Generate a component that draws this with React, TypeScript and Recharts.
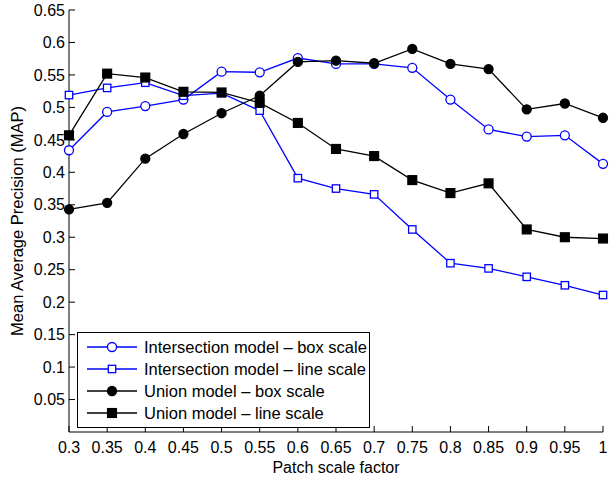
import React from "react";
import { LineChart, Line, XAxis, YAxis, Legend } from "recharts";

// patch scale factor (x)
const patchScale = [0.3, 0.35, 0.4, 0.45, 0.5, 0.55, 0.6, 0.65, 0.7, 0.75, 0.8, 0.85, 0.9, 0.95, 1];

// MAP per model / scale mode
const intersectionBox = [0.434, 0.493, 0.502, 0.512, 0.555, 0.554, 0.576, 0.567, 0.567, 0.561, 0.512, 0.466, 0.455, 0.457, 0.413];
const intersectionLine = [0.519, 0.53, 0.538, 0.518, 0.522, 0.495, 0.391, 0.375, 0.366, 0.312, 0.26, 0.252, 0.239, 0.226, 0.211];
const unionBox = [0.343, 0.353, 0.421, 0.459, 0.491, 0.518, 0.57, 0.572, 0.568, 0.59, 0.567, 0.559, 0.497, 0.506, 0.484];
const unionLine = [0.457, 0.552, 0.546, 0.524, 0.523, 0.507, 0.476, 0.436, 0.425, 0.388, 0.368, 0.383, 0.312, 0.3, 0.298];

const xTicks = patchScale;
const yTicks = [0.05, 0.1, 0.15, 0.2, 0.25, 0.3, 0.35, 0.4, 0.45, 0.5, 0.55, 0.6, 0.65];

const data = patchScale.map((x, i) => ({
  x,
  ib: intersectionBox[i],
  il: intersectionLine[i],
  ub: unionBox[i],
  ul: unionLine[i],
}));

const BLUE = "#0000ff";
const FONT = "'Liberation Sans', Arial, Helvetica, sans-serif";

const series = [
  { key: "ib", name: "Intersection model \u2013 box scale", color: BLUE, shape: "circle", filled: false },
  { key: "il", name: "Intersection model \u2013 line scale", color: BLUE, shape: "square", filled: false },
  { key: "ub", name: "Union model \u2013 box scale", color: "#000", shape: "circle", filled: true },
  { key: "ul", name: "Union model \u2013 line scale", color: "#000", shape: "square", filled: true },
];

const fmt = (v: number) => String(Number(v.toFixed(2)));

function Marker({ cx, cy, shape, color, filled }: any) {
  if (cx == null || cy == null) return null;
  const fill = filled ? color : "#fff";
  if (shape === "circle") {
    return <circle cx={cx} cy={cy} r={4.5} fill={fill} stroke={color} strokeWidth={1.3} />;
  }
  const h = filled ? 4.4 : 3.7;
  return <rect x={cx - h} y={cy - h} width={h * 2} height={h * 2} fill={fill} stroke={color} strokeWidth={1.3} />;
}

const XTick = ({ x, y, payload }: any) => (
  <g>
    <line x1={x} y1={y} x2={x} y2={y - 6} stroke="#000" />
    <text x={x} y={y + 21} textAnchor="middle" fontSize={16} fontFamily={FONT} fill="#000">
      {fmt(payload.value)}
    </text>
  </g>
);

const YTick = ({ x, y, payload }: any) => (
  <g>
    <line x1={x} y1={y} x2={x + 6} y2={y} stroke="#000" />
    <text x={x - 4} y={y + 5.7} textAnchor="end" fontSize={16} fontFamily={FONT} fill="#000">
      {fmt(payload.value)}
    </text>
  </g>
);

const LegendBox = () => (
  <div
    style={{
      border: "1px solid #000",
      background: "#fff",
      padding: "3px 0 3px 0",
      fontFamily: FONT,
      fontSize: 16.5,
      width: 293,
      boxSizing: "border-box",
    }}
  >
    {series.map((s) => (
      <div key={s.key} style={{ display: "flex", alignItems: "center", height: 22 }}>
        <svg width={66} height={22} style={{ flex: "none" }}>
          <line x1={9} y1={11} x2={59} y2={11} stroke={s.color} strokeWidth={1.3} />
          <Marker cx={34} cy={11} shape={s.shape} color={s.color} filled={s.filled} />
        </svg>
        <span style={{ whiteSpace: "nowrap" }}>{s.name}</span>
      </div>
    ))}
  </div>
);

export default function App() {
  return (
    <div style={{ position: "absolute", left: 0, top: 0, background: "#fff" }}>
      <LineChart width={610} height={479} data={data} margin={{ top: 10, right: 7, left: 0, bottom: 0 }}>
        <XAxis
          dataKey="x"
          type="number"
          domain={[0.3, 1]}
          ticks={xTicks}
          interval={0}
          height={47}
          tickSize={0}
          tickMargin={0}
          tickLine={false}
          tick={<XTick />}
          axisLine={{ stroke: "#000" }}
          label={{
            value: "Patch scale factor",
            position: "insideBottom",
            offset: 6,
            style: { fontSize: 16, fontFamily: FONT, fill: "#000" },
          }}
        />
        <YAxis
          type="number"
          domain={[0, 0.65]}
          ticks={yTicks}
          interval={0}
          width={69}
          tickSize={0}
          tickMargin={0}
          tickLine={false}
          tick={<YTick />}
          axisLine={{ stroke: "#000" }}
          label={{
            value: "Mean Average Precision (MAP)",
            angle: -90,
            position: "insideLeft",
            offset: 17,
            style: { fontSize: 16.5, fontFamily: FONT, fill: "#000", textAnchor: "middle" },
          }}
        />
        <Legend
          layout="vertical"
          align="center"
          verticalAlign="middle"
          content={<LegendBox />}
          wrapperStyle={{ left: 77, top: 332, width: 293, height: "auto" }}
        />
        {series.map((s) => (
          <Line
            key={s.key}
            type="linear"
            dataKey={s.key}
            name={s.name}
            stroke={s.color}
            strokeWidth={1.3}
            isAnimationActive={false}
            dot={(p: any) => (
              <Marker key={`${s.key}-${p.index}`} cx={p.cx} cy={p.cy} shape={s.shape} color={s.color} filled={s.filled} />
            )}
            activeDot={false}
          />
        ))}
      </LineChart>
    </div>
  );
}
